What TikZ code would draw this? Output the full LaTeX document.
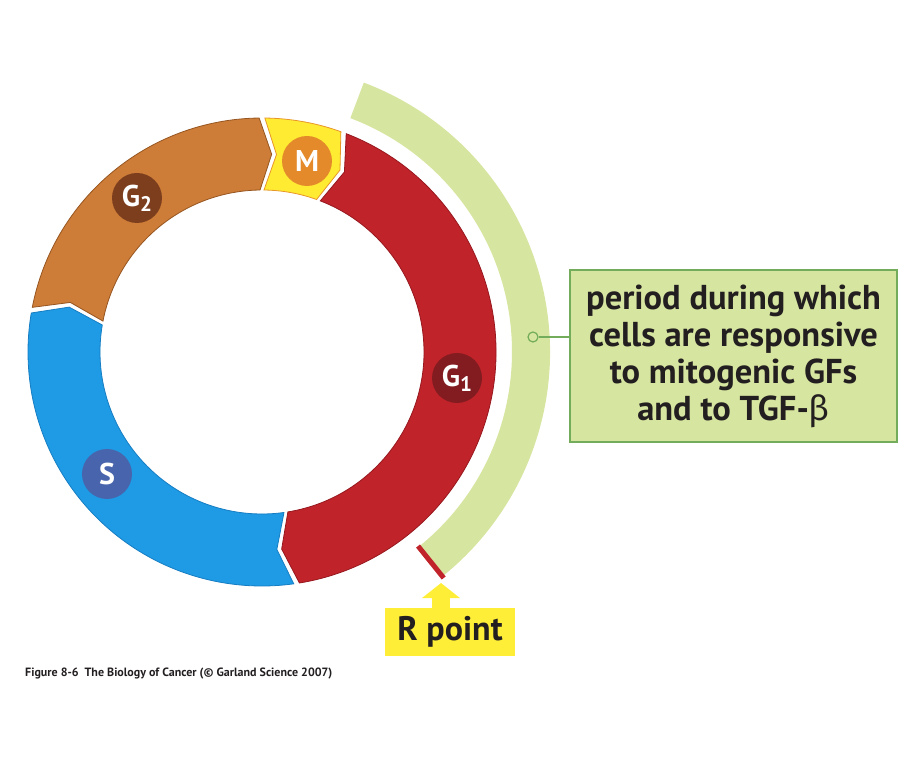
\documentclass[tikz,border=0pt]{standalone}
\usepackage{fontspec}
\setmainfont{PT Sans}
\newfontfamily\grkfont{Fira Sans}
\usetikzlibrary{arrows.meta}
\definecolor{G1red}{RGB}{193,35,42}
\definecolor{G1line}{RGB}{150,24,30}
\definecolor{Sblue}{RGB}{30,155,228}
\definecolor{Sline}{RGB}{22,125,195}
\definecolor{G2orange}{RGB}{205,125,55}
\definecolor{G2line}{RGB}{150,85,32}
\definecolor{Myellow}{RGB}{255,236,50}
\definecolor{Mline}{RGB}{232,150,40}
\definecolor{Mcirc}{RGB}{228,138,42}
\definecolor{G2circ}{RGB}{125,62,30}
\definecolor{G1circ}{RGB}{130,28,32}
\definecolor{Scirc}{RGB}{72,100,172}
\definecolor{lgreen}{RGB}{214,229,160}
\definecolor{boxline}{RGB}{115,172,90}
\definecolor{ryellow}{RGB}{255,238,55}
\definecolor{inkdark}{RGB}{35,31,32}
\newcommand\ringseg[4]{%
  \pgfmathsetmacro\segA{#1-0.7}%
  \pgfmathsetmacro\segB{#2+0.7}%
  \pgfmathsetmacro\segC{#1-0.7-3.5}%
  \pgfmathsetmacro\segD{#2+0.7-3.5}%
  \path[fill=#3,draw=#4,line width=0.8pt,line join=miter]
    (\segA:234) arc[start angle=\segA,end angle=\segB,radius=234pt]
    -- (\segD:198) -- (\segB:162)
    arc[start angle=\segB,end angle=\segA,radius=162pt]
    -- (\segC:198) -- cycle;}
\tikzset{
  lab/.style={circle,minimum size=50pt,inner sep=0pt,text=white,
    font=\fontsize{30}{30}\bfseries\selectfont},
}
\newcommand\subnum[1]{{\fontsize{21}{21}\selectfont\raisebox{-5pt}{#1}}}
\begin{document}
\begin{tikzpicture}[x=1pt,y=1pt]
\useasboundingbox (-262,-426) rectangle (650,352);
% ring segments
\ringseg{90}{69.6}{Myellow}{Mline}
\ringseg{69.6}{-81.5}{G1red}{G1line}
\ringseg{-81.5}{-190.3}{Sblue}{Sline}
\ringseg{169.7}{90}{G2orange}{G2line}
% phase labels
\node[lab,fill=Mcirc] (m) at (45,191) {M};
\node[lab,fill=G2circ] (g2) at (-125,154) {G\subnum{2}};
\node[lab,fill=G1circ] (g1) at (195,-26) {G\subnum{1}};
\node[lab,fill=Scirc] (s) at (-155,-122) {S};
% responsive period arc
\path[fill=lgreen] (69.3:288) arc[start angle=69.3,end angle=-51.4,radius=288pt]
  -- (-51.4:250) arc[start angle=-51.4,end angle=69.3,radius=250pt] -- cycle;
\coordinate (rin) at (-51.2:249);
\coordinate (rout) at (-51.2:290);
\draw[G1red,line width=5pt] (rin) -- (rout);
% explanation box
\node[draw=boxline,fill=lgreen,line width=1.5pt,minimum width=327pt,minimum height=172pt,
  align=center,text=inkdark,font=\fontsize{34.5}{37}\bfseries\selectfont] (box) at (471.5,-4)
  {period during which\\cells are responsive\\to mitogenic GFs\\and to TGF-{\grkfont\mdseries β}};
\node[circle,draw=boxline,fill=lgreen,line width=1.2pt,minimum size=10pt,inner sep=0pt] (dot) at (271,15) {};
\draw[boxline,line width=1.5pt] (dot.east) -- (dot.east -| box.west);
% R point
\node[fill=ryellow,minimum width=130pt,minimum height=48pt,inner sep=0pt,text=inkdark,
  font=\fontsize{34}{34}\bfseries\selectfont] (rbox) at (188,-280) {R point};
\coordinate (tip) at (179,-231);
\draw[ryellow,line width=18pt,-{Triangle[width=37pt,length=15pt]}] (tip |- rbox.north) -- (tip);
% caption
\node[anchor=base west,inner sep=0pt,text=inkdark,font=\fontsize{12}{12}\bfseries\selectfont] (cap) at (-237,-324)
  {Figure 8-6\enspace The Biology of Cancer (\textcopyright{} Garland Science 2007)};
\end{tikzpicture}
\end{document}
